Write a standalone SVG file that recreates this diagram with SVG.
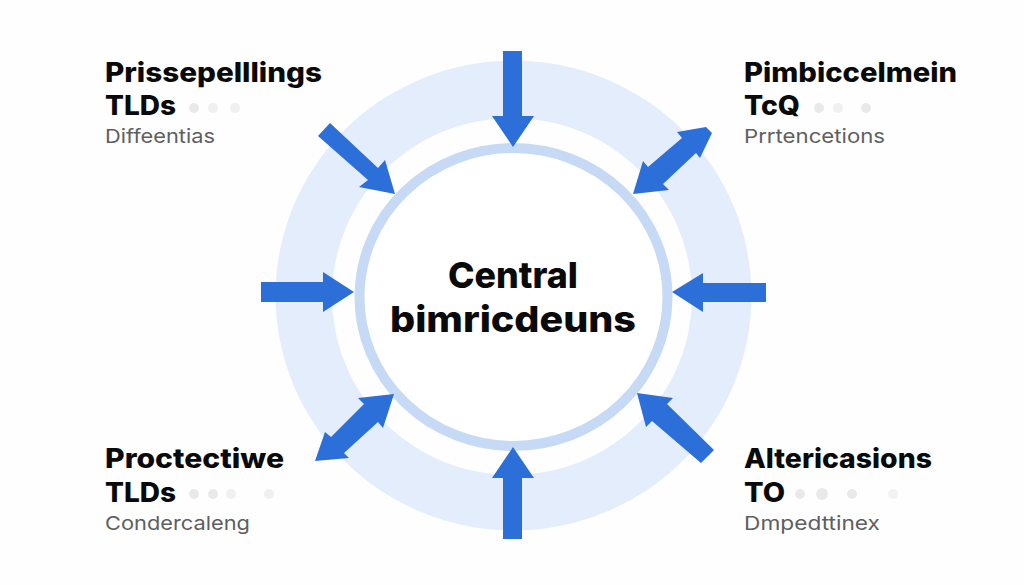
<svg xmlns="http://www.w3.org/2000/svg" width="1024" height="585" viewBox="0 0 1024 585">
<style>
.t{font-family:"Inter","Liberation Sans",sans-serif;font-weight:800;fill:#0a0a0a;font-size:27px}
.s{font-family:"Inter","Liberation Sans",sans-serif;font-weight:400;fill:#5f5f5f;font-size:19px}
.c{font-family:"Inter","Liberation Sans",sans-serif;font-weight:800;fill:#0a0a0a;font-size:36px}
.a{fill:#2c6fd8}
.d{fill:#e9e9e9}
</style>
<rect width="1024" height="585" fill="#fefefe"/>
<g id="rings">
<path fill="#e4edfb" fill-rule="evenodd" d="M275.500 295.500a238 235 0 1 0 476 0a238 235 0 1 0 -476 0ZM332 296.500a180 178.500 0 1 0 360 0a180 178.500 0 1 0 -360 0Z"/>
</g>
<g id="center">
<ellipse cx="513.500" cy="297" rx="154" ry="149" fill="#fff" stroke="#c6daf5" stroke-width="10"/>
<text class="c" x="448" y="288" textLength="130" lengthAdjust="spacingAndGlyphs">Central</text>
<text class="c" x="390" y="332" textLength="246" lengthAdjust="spacingAndGlyphs">bimricdeuns</text>
</g>
<g id="connectors">
<polygon class="a" points="503,51 522,51 522,116 534,116 513,147 492,116 503,116"/>
<polygon class="a" points="503,539 522,539 522,478 534,478 513,447 492,478 503,478"/>
<polygon class="a" points="261,282 323,282 323,272 354,292 323,312 323,302 261,302"/>
<polygon class="a" points="766,283 703,283 703,273 672,292 703,312 703,302 766,302"/>
<polygon class="a" points="330,123 378,168 385,160 395,194 359,187 368,180 318,136"/>
<polygon class="a" points="637,393 673,398 667,404 714,450 701,463 652,421 646,427"/>
<polygon class="a" points="633,194 643,161 648,167 682,138 677,132 706,127 712,133 700,158 696,153 663,184 669,190"/>
<polygon class="a" points="394,394 358,398 364,404 331,437 325,432 315,461 349,458 344,453 378,422 383,428"/>
</g>
<g id="node-tl">
<text class="t" x="105" y="82" textLength="217" lengthAdjust="spacingAndGlyphs">Prissepelllings</text>
<text class="t" x="105" y="115" textLength="71" lengthAdjust="spacingAndGlyphs">TLDs</text>
<circle class="d" cx="194" cy="108" r="5"/><circle class="d" cx="213" cy="108" r="5" opacity=".7"/><circle class="d" cx="235" cy="108" r="5" opacity=".7"/>
<text class="s" x="105" y="143" textLength="110" lengthAdjust="spacingAndGlyphs">Diffeentias</text>
</g>
<g id="node-tr">
<text class="t" x="744" y="82" textLength="213" lengthAdjust="spacingAndGlyphs">Pimbiccelmein</text>
<text class="t" x="744" y="115" textLength="56" lengthAdjust="spacingAndGlyphs">TcQ</text>
<circle class="d" cx="819" cy="108" r="5"/><circle class="d" cx="838" cy="108" r="5" opacity=".7"/><circle class="d" cx="866" cy="108" r="5"/>
<text class="s" x="744" y="143" textLength="141" lengthAdjust="spacingAndGlyphs">Prrtencetions</text>
</g>
<g id="node-bl">
<text class="t" x="105" y="468" textLength="179" lengthAdjust="spacingAndGlyphs">Proctectiwe</text>
<text class="t" x="105" y="502" textLength="71" lengthAdjust="spacingAndGlyphs">TLDs</text>
<circle class="d" cx="194" cy="494" r="5"/><circle class="d" cx="213" cy="494" r="5"/><circle class="d" cx="231" cy="494" r="5" opacity=".7"/><circle class="d" cx="269" cy="494" r="5" opacity=".7"/>
<text class="s" x="105" y="530" textLength="145" lengthAdjust="spacingAndGlyphs">Condercaleng</text>
</g>
<g id="node-br">
<text class="t" x="744" y="468" textLength="188" lengthAdjust="spacingAndGlyphs">Altericasions</text>
<text class="t" x="744" y="502" textLength="41" lengthAdjust="spacingAndGlyphs">TO</text>
<circle class="d" cx="800" cy="494" r="5"/><circle class="d" cx="822" cy="494" r="6"/><circle class="d" cx="852" cy="494" r="5"/><circle class="d" cx="893" cy="494" r="5" opacity=".6"/>
<text class="s" x="744" y="530" textLength="136" lengthAdjust="spacingAndGlyphs">Dmpedttinex</text>
</g>
</svg>
